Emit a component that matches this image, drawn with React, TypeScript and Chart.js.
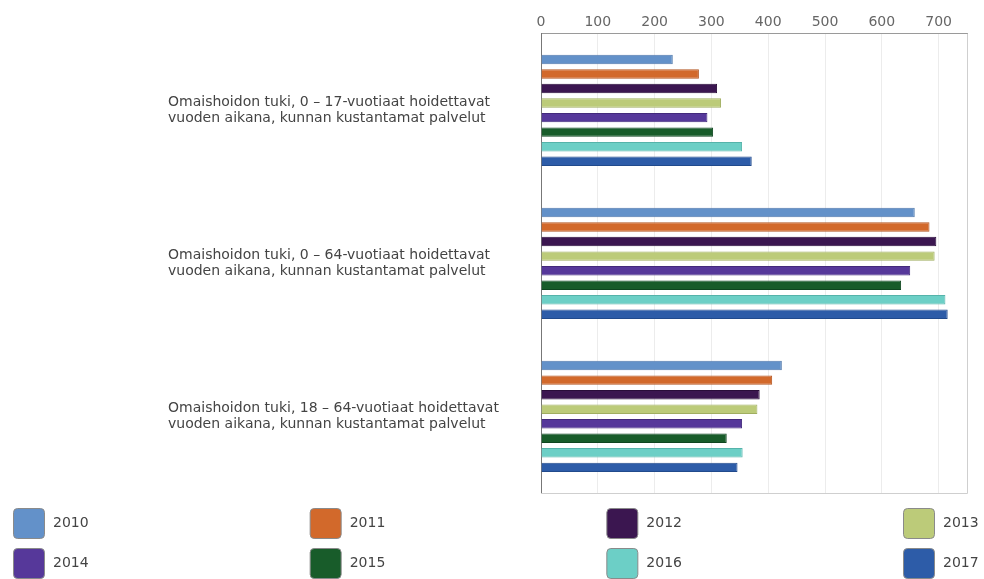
import React, { useEffect, useRef } from "react";
import { Chart, registerables } from "chart.js";

Chart.register(...registerables);

const categories: string[][] = [
  ["Omaishoidon tuki, 0 – 17-vuotiaat hoidettavat", "vuoden aikana, kunnan kustantamat palvelut"],
  ["Omaishoidon tuki, 0 – 64-vuotiaat hoidettavat", "vuoden aikana, kunnan kustantamat palvelut"],
  ["Omaishoidon tuki, 18 – 64-vuotiaat hoidettavat", "vuoden aikana, kunnan kustantamat palvelut"],
];

const years = ["2010", "2011", "2012", "2013", "2014", "2015", "2016", "2017"];

const v2010 = [232, 658, 424];
const v2011 = [278, 684, 407];
const v2012 = [310, 696, 385];
const v2013 = [317, 693, 381];
const v2014 = [293, 650, 354];
const v2015 = [303, 634, 327];
const v2016 = [354, 712, 355];
const v2017 = [371, 716, 346];

const seriesValues = [v2010, v2011, v2012, v2013, v2014, v2015, v2016, v2017];

const colors = ["#6391c9", "#d2692b", "#3b1650", "#bccb79", "#56389a", "#185c2a", "#6ccfc6", "#2d5ca8"];
const borderColors = ["#4f78aa", "#b35520", "#2a0d3a", "#a0ae60", "#432a7c", "#0f4620", "#55b3aa", "#214a8c"];

const xTickStep = 100;
const xMax = 750;

const FONT = "'DejaVu Sans', Verdana, sans-serif";

const plotBorder = {
  id: "plotBorder",
  beforeDatasetsDraw(chart: any) {
    const { ctx, chartArea } = chart;
    ctx.save();
    ctx.strokeStyle = "#cfcfcf";
    ctx.lineWidth = 1;
    ctx.beginPath();
    ctx.moveTo(chartArea.left, chartArea.bottom + 0.5);
    ctx.lineTo(chartArea.right + 0.5, chartArea.bottom + 0.5);
    ctx.lineTo(chartArea.right + 0.5, chartArea.top);
    ctx.stroke();
    ctx.restore();
  },
};

const gridLegend = {
  id: "gridLegend",
  afterDraw(chart: any) {
    const { ctx } = chart;
    const ds = chart.data.datasets;
    const left = 13;
    const step = (chart.width - 81 - left) / 3;
    const rowTop = [508, 548];
    ctx.save();
    ds.forEach((d: any, i: number) => {
      const col = i % 4;
      const row = Math.floor(i / 4);
      const x = left + col * step;
      const y = rowTop[row];
      const w = 31;
      const h = 30;
      ctx.beginPath();
      if (ctx.roundRect) ctx.roundRect(x + 0.5, y + 0.5, w, h, 4);
      else ctx.rect(x + 0.5, y + 0.5, w, h);
      ctx.fillStyle = d.backgroundColor;
      ctx.fill();
      ctx.strokeStyle = "#8a8a8a";
      ctx.lineWidth = 1;
      ctx.stroke();
      ctx.fillStyle = "#444";
      ctx.font = `14px ${FONT}`;
      ctx.textBaseline = "middle";
      ctx.textAlign = "left";
      ctx.fillText(d.label, x + 40, y + h / 2);
    });
    ctx.restore();
  },
};

export default function App() {
  const ref = useRef<HTMLCanvasElement>(null);
  useEffect(() => {
    if (!ref.current) return;
    const chart = new Chart(ref.current, {
      type: "bar",
      data: {
        labels: categories,
        datasets: years.map((y, i) => ({
          label: y,
          data: seriesValues[i],
          backgroundColor: colors[i],
          borderColor: borderColors[i],
          borderWidth: 1,
          categoryPercentage: 0.76,
          barPercentage: 0.65,
        })),
      },
      options: {
        indexAxis: "y",
        animation: false,
        responsive: false,
        maintainAspectRatio: false,
        layout: { padding: { left: 168, right: 17, top: 11, bottom: 86 } },
        plugins: {
          legend: { display: false },
          tooltip: { enabled: false },
        },
        scales: {
          x: {
            position: "top",
            min: 0,
            max: xMax,
            grid: { color: "#ececec", drawTicks: false },
            border: { display: true, color: "#9a9a9a" },
            ticks: {
              stepSize: xTickStep,
              includeBounds: false,
              autoSkip: false,
              maxRotation: 0,
              padding: 3,
              color: "#666",
              font: { family: FONT, size: 14 },
            },
          },
          y: {
            grid: { display: false },
            border: { display: true, color: "#777" },
            afterFit: (scale: any) => {
              scale.width = 541 - 168;
            },
            ticks: {
              crossAlign: "far",
              color: "#444",
              font: { family: FONT, size: 14, lineHeight: 1.15 },
            },
          },
        },
      },
      plugins: [plotBorder, gridLegend],
    });
    return () => chart.destroy();
  }, []);
  return (
    <div style={{ position: "fixed", left: 0, top: 0, width: 984, height: 579, background: "#fff" }}>
      <canvas ref={ref} width={984} height={579} style={{ width: 984, height: 579 }} />
    </div>
  );
}
